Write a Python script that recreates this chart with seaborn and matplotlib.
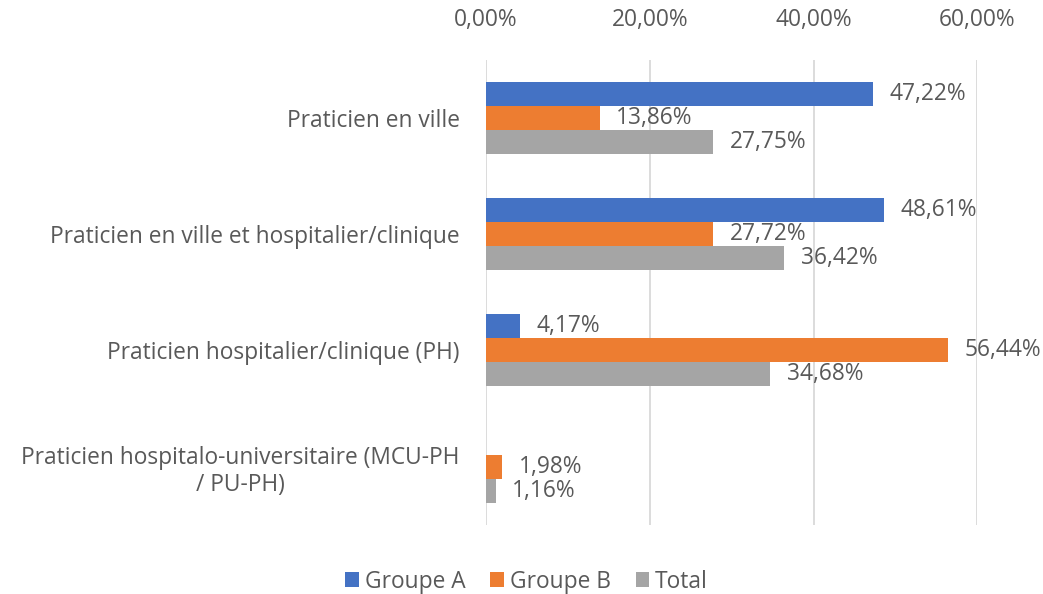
import numpy as np
import pandas as pd
import matplotlib
matplotlib.use("Agg")
import matplotlib.pyplot as plt
from matplotlib.patches import Patch
import seaborn as sns

categories = [
    "Praticien en ville",
    "Praticien en ville et hospitalier/clinique",
    "Praticien hospitalier/clinique (PH)",
    "Praticien hospitalo-universitaire (MCU-PH\n/ PU-PH)",
]
groupe_a = [47.22, 48.61, 4.17, np.nan]
groupe_b = [13.86, 27.72, 56.44, 1.98]
total = [27.75, 36.42, 34.68, 1.16]
series_names = ["Groupe A", "Groupe B", "Total"]
x_ticks = [0, 20, 40, 60]

colors = ["#4472C4", "#ED7D31", "#A5A5A5"]
text_color = "#595959"
fs = 16.4

df = pd.DataFrame({
    "Catégorie": categories * 3,
    "Série": [s for s in series_names for _ in categories],
    "Valeur": groupe_a + groupe_b + total,
}).dropna()

sns.set_theme(style="white")
plt.rcParams["font.family"] = ["Open Sans", "DejaVu Sans"]

fig = plt.figure(figsize=(10.43, 5.94), dpi=100)
ax = fig.add_axes([0.466, 0.1165, 0.471, 0.783])

sns.barplot(
    data=df, y="Catégorie", x="Valeur", hue="Série",
    order=categories, hue_order=series_names,
    palette=colors, orient="h", width=0.62, gap=0,
    saturation=1, errorbar=None, ax=ax, legend=False,
    linewidth=0, edgecolor="none",
)

def fmt(v):
    return f"{v:.2f}".replace(".", ",") + "%"

for container, vals in zip(ax.containers, [groupe_a, groupe_b, total]):
    labels = [fmt(v) for v in vals if not np.isnan(v)]
    ax.bar_label(container, labels=labels, padding=12, fontsize=fs,
                 color=text_color)

ax.set_xlim(0, 60)
ax.set_xticks(x_ticks)
ax.set_xticklabels([fmt(t) for t in x_ticks])
ax.xaxis.tick_top()
ax.tick_params(axis="x", length=0, pad=20, labelsize=fs, labelcolor=text_color)
ax.tick_params(axis="y", length=0, pad=19, labelsize=fs, labelcolor=text_color)
for lbl in ax.get_yticklabels():
    lbl.set_multialignment("center")
ax.set_xlabel("")
ax.set_ylabel("")
ax.grid(axis="x", color="#D9D9D9", linewidth=1.3)
ax.set_axisbelow(True)
for sp in ax.spines.values():
    sp.set_visible(False)

handles = [Patch(facecolor=c, edgecolor="none") for c in colors]
fig.legend(handles, series_names, loc="lower center", bbox_to_anchor=(0.505, -0.034),
           ncol=3, frameon=False, fontsize=fs, labelcolor=text_color,
           handlelength=0.6, handleheight=0.6, handletextpad=0.25, columnspacing=1.1)

fig.savefig("out.png", dpi=100)
